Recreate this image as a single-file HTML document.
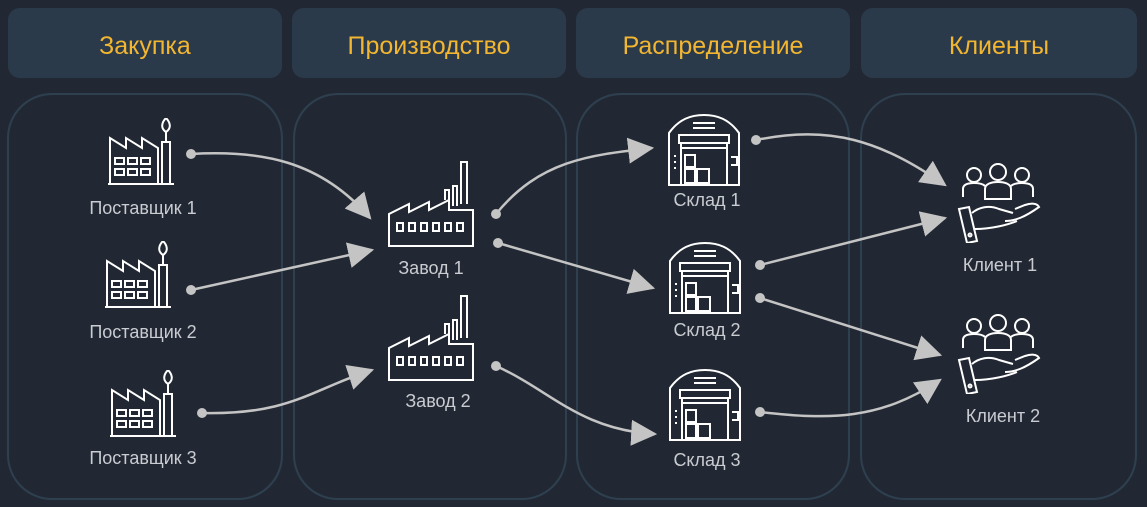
<!DOCTYPE html>
<html><head><meta charset="utf-8"><style>
html,body{margin:0;padding:0;background:#222833;}
svg{display:block}
text{font-family:"Liberation Sans",sans-serif;}
</style></head><body>
<svg width="1147" height="507" viewBox="0 0 1147 507" xmlns="http://www.w3.org/2000/svg">
<defs>
<marker id="a" viewBox="0 0 12 12" refX="11" refY="6" markerWidth="26" markerHeight="26" markerUnits="userSpaceOnUse" orient="auto"><path d="M0,0 L12,6 L0,12 Z" fill="#c4c4c4"/></marker>
<marker id="d" viewBox="0 0 10 10" refX="5" refY="5" markerWidth="10" markerHeight="10" markerUnits="userSpaceOnUse"><circle cx="5" cy="5" r="5" fill="#c4c4c4"/></marker>
<symbol id="sup" viewBox="0 0 70 70">
<g fill="none" stroke="#fff" stroke-width="2">
<path d="M2,66 H68 M4,66 V20 L20,30 V20 L36,30 V20 L52,30 V66"/>
<path d="M56,66 V24 H64 V66"/><path d="M60,24 V14"/><path d="M60,14 C54,10 56,4 60,0 C64,4 66,10 60,14Z"/>
<rect x="9" y="40" width="9" height="6"/><rect x="22" y="40" width="9" height="6"/><rect x="35" y="40" width="9" height="6"/>
<rect x="9" y="51" width="9" height="6"/><rect x="22" y="51" width="9" height="6"/><rect x="35" y="51" width="9" height="6"/>
</g></symbol>
<symbol id="fac" viewBox="0 0 90 90">
<g fill="none" stroke="#fff" stroke-width="2">
<path d="M2,86 V54 L22,44 V52 L42,42 V50 L62,40 V50 H86 V86 Z"/>
<path d="M58,40 V30 H62 V40 M66,46 V26 H70 V46 M74,44 V2 H80 V44"/>
<rect x="10" y="63" width="6" height="8"/><rect x="22" y="63" width="6" height="8"/><rect x="34" y="63" width="6" height="8"/><rect x="46" y="63" width="6" height="8"/><rect x="58" y="63" width="6" height="8"/><rect x="70" y="63" width="6" height="8"/>
</g></symbol>
<symbol id="wh" viewBox="0 0 74 74">
<g fill="none" stroke="#fff" stroke-width="2">
<path d="M2,72 V20 C12,6 24,2 37,2 C50,2 62,6 72,20 V72 Z"/>
<path d="M26,10 H48 M26,15 H48"/>
<rect x="12" y="22" width="50" height="8"/><path d="M14,30 V72 M60,30 V72 M14,35 H60"/>
<rect x="18" y="42" width="10" height="12"/><rect x="18" y="56" width="10" height="14"/><rect x="30" y="56" width="12" height="14"/>
<path d="M64,44 H70 V52 H64"/>
<path d="M8,42 V44 M8,48 V50 M8,54 V56"/>
</g></symbol>
<symbol id="cl" viewBox="0 0 86 80">
<g fill="none" stroke="#fff" stroke-width="2">
<circle cx="19" cy="12" r="7"/><circle cx="67" cy="12" r="7"/><circle cx="43" cy="9" r="8"/>
<path d="M8,34 V26 C8,22 12,20 19,20 C24,20 28,21 30,23"/><path d="M78,34 V26 C78,22 74,20 67,20 C62,20 58,21 56,23"/>
<path d="M30,36 V26 C30,21 36,19 43,19 C50,19 56,21 56,26 V36 Z"/>
<path d="M4,46 L14,44 L22,78 L12,80 Z"/><circle cx="15" cy="72" r="1.5"/>
<path d="M17,50 C24,44 34,42 44,46 L58,50 M50,58 C60,58 70,54 84,44 C82,40 76,40 70,42 L60,46"/>
<path d="M20,66 C36,66 52,62 62,58"/>
</g></symbol>
</defs>
<g fill="#2b3a4a">
<rect x="8" y="8" width="274" height="70" rx="12"/>
<rect x="292" y="8" width="274" height="70" rx="12"/>
<rect x="576" y="8" width="274" height="70" rx="12"/>
<rect x="861" y="8" width="276" height="70" rx="12"/>
</g>
<g fill="#f2b630" font-size="25" text-anchor="middle">
<text x="145" y="54">Закупка</text>
<text x="429" y="54">Производство</text>
<text x="713" y="54">Распределение</text>
<text x="999" y="54">Клиенты</text>
</g>
<g fill="none" stroke="#2e4050" stroke-width="2">
<rect x="8" y="94" width="274" height="405" rx="44"/>
<rect x="294" y="94" width="272" height="405" rx="44"/>
<rect x="577" y="94" width="272" height="405" rx="44"/>
<rect x="861" y="94" width="275" height="405" rx="44"/>
</g>
<use href="#sup" x="106" y="118" width="70" height="70"/>
<use href="#sup" x="103" y="241" width="70" height="70"/>
<use href="#sup" x="108" y="370" width="70" height="70"/>
<use href="#fac" x="387" y="160" width="90" height="90"/>
<use href="#fac" x="387" y="294" width="90" height="90"/>
<use href="#wh" x="667" y="113" width="74" height="74"/>
<use href="#wh" x="668" y="241" width="74" height="74"/>
<use href="#wh" x="668" y="368" width="74" height="74"/>
<use href="#cl" x="955" y="163" width="86" height="80"/>
<use href="#cl" x="955" y="314" width="86" height="80"/>
<g fill="#c9ccd1" font-size="18" text-anchor="middle">
<text x="143" y="214">Поставщик 1</text>
<text x="143" y="338">Поставщик 2</text>
<text x="143" y="464">Поставщик 3</text>
<text x="431" y="274">Завод 1</text>
<text x="438" y="407">Завод 2</text>
<text x="707" y="206">Склад 1</text>
<text x="707" y="336">Склад 2</text>
<text x="707" y="466">Склад 3</text>
<text x="1000" y="271">Клиент 1</text>
<text x="1003" y="422">Клиент 2</text>
</g>
<g fill="none" stroke="#c4c4c4" stroke-width="2.5" marker-start="url(#d)" marker-end="url(#a)">
<path d="M191,154 C260,150 320,160 370,218"/>
<path d="M191,290 L372,250"/>
<path d="M202,413 C290,415 310,390 372,370"/>
<path d="M496,214 C540,160 590,155 652,148"/>
<path d="M498,243 L653,288"/>
<path d="M496,366 C550,390 580,430 655,434"/>
<path d="M756,140 C830,125 880,140 945,185"/>
<path d="M760,265 L945,218"/>
<path d="M760,298 L940,355"/>
<path d="M760,412 C830,420 880,420 940,380"/>
</g>
</svg>
</body></html>
